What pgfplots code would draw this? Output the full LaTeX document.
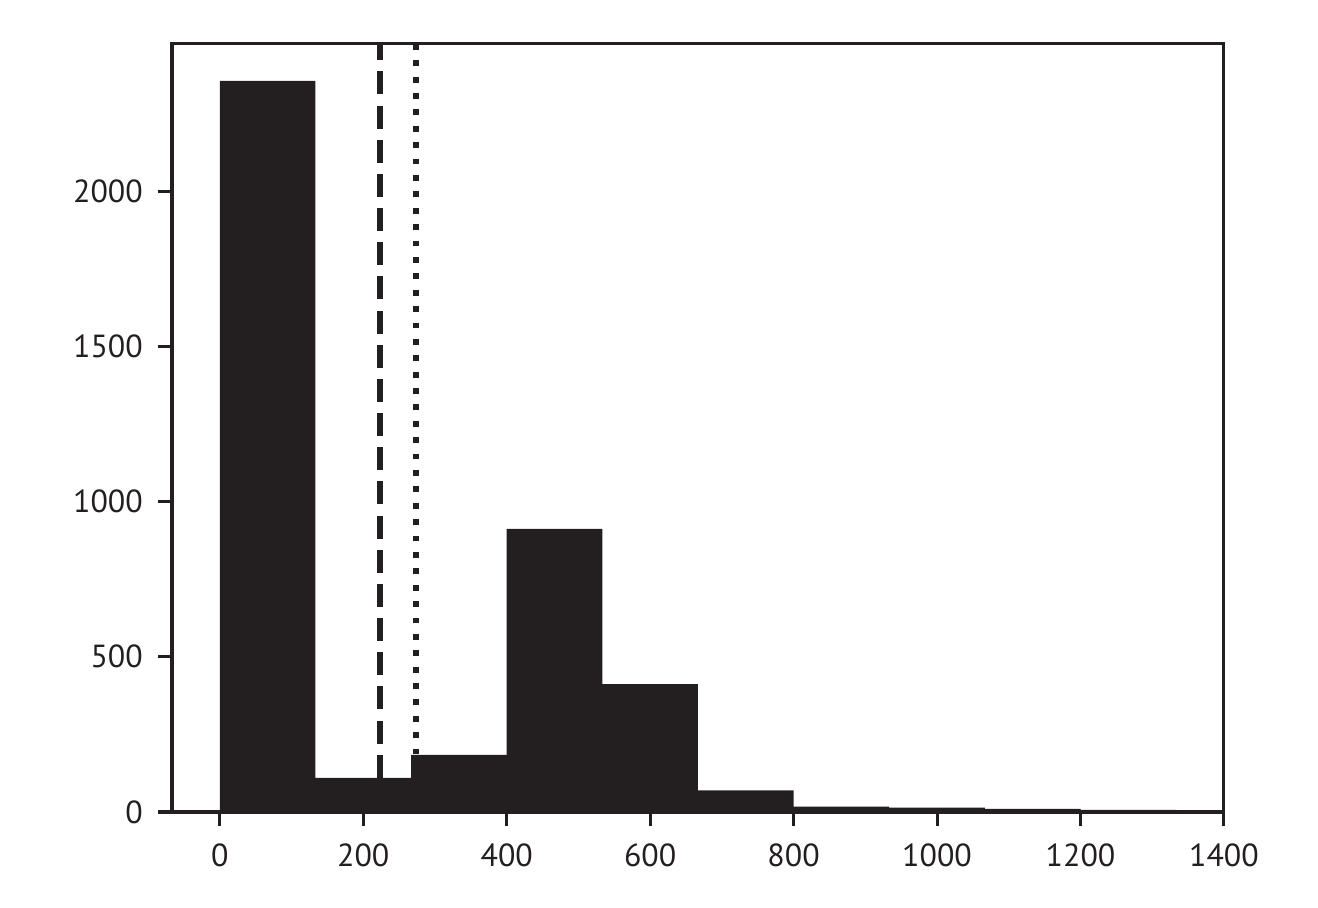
\documentclass[border=0pt]{standalone}
\usepackage{pgfplots}
\pgfplotsset{compat=1.18}
\usepackage{fontspec}
\setmainfont{PT Sans}
\definecolor{ink}{HTML}{231F20}
\begin{document}
\begin{tikzpicture}[x=0.36pt,y=0.36pt]
\begin{axis}[
  at={(0,0)}, anchor=south west,
  scale only axis,
  width=378.7pt, height=276.5pt,
  xmin=-66.7, xmax=1400,
  ymin=0, ymax=2474,
  xtick={0,200,...,1400}, ytick={0,500,...,2000},
  tick pos=left, tick align=outside,
  major tick length=5pt,
  every tick/.style={ink, line width=1.1pt},
  axis line style={ink, line width=1.1pt},
  /pgf/number format/assume math mode=true,
  /pgf/number format/1000 sep={},
  tick label style={font=\fontsize{11.5}{13}\selectfont, text=ink},
  xticklabel style={yshift=-3pt},
  yticklabel style={xshift=-2pt},
  clip=false,
]
\addplot[ybar interval, fill=ink, draw=none] coordinates {
  (0,2355) (133.33,110) (266.67,184) (400,912) (533.33,412)
  (666.67,70) (800,17) (933.33,14) (1066.67,10) (1200,7) (1333.33,7)
};
\addplot[ink, line width=2pt, dash pattern=on 8.3pt off 4pt] coordinates {(223.6,0) (223.6,2474)};
\addplot[ink, line width=2.1pt, dash pattern=on 2.1pt off 3.8pt, dash phase=-3pt] coordinates {(274,0) (274,2474)};
\end{axis}
\useasboundingbox (-172,-96) rectangle (1146,812);
\end{tikzpicture}
\end{document}
